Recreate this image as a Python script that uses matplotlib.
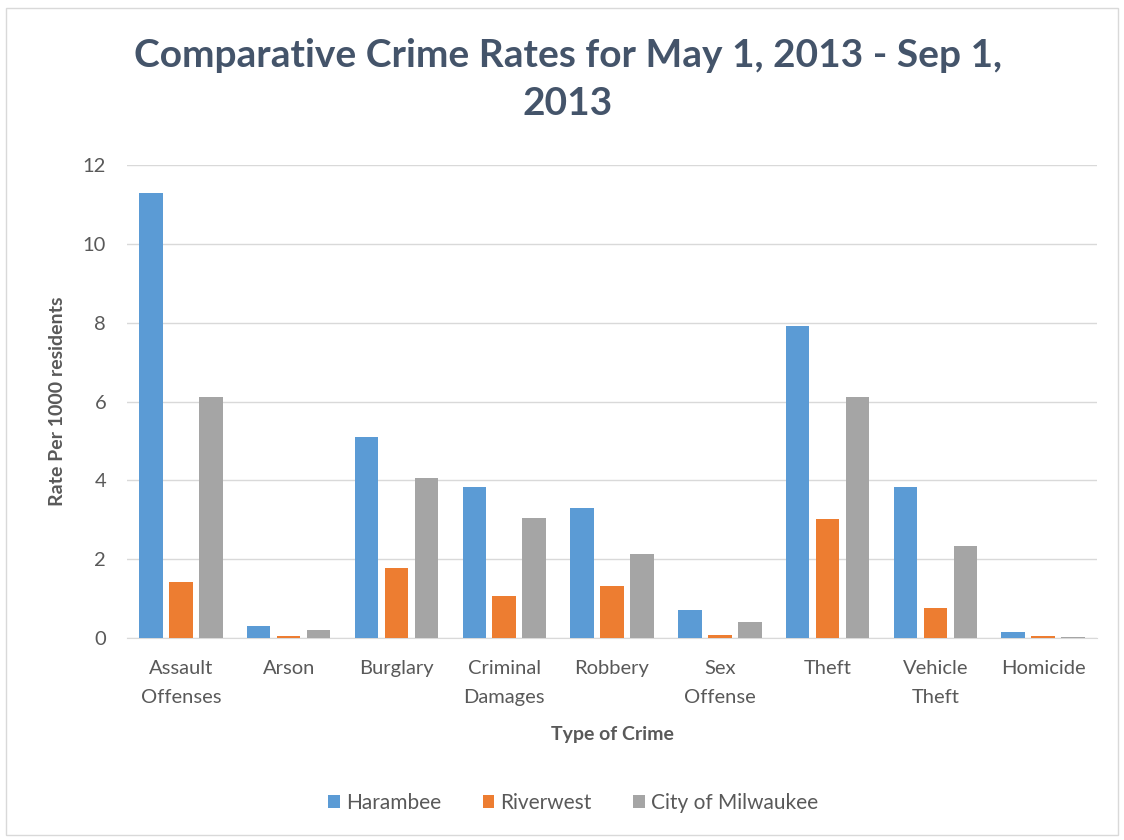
import matplotlib.pyplot as plt
import numpy as np
from matplotlib.patches import Rectangle

crimes = ['Assault\nOffenses', 'Arson', 'Burglary', 'Criminal\nDamages', 'Robbery',
          'Sex\nOffense', 'Theft', 'Vehicle\nTheft', 'Homicide']
harambee = [11.3, 0.30, 5.09, 3.82, 3.31, 0.70, 7.91, 3.82, 0.14]
riverwest = [1.42, 0.04, 1.78, 1.06, 1.33, 0.08, 3.01, 0.76, 0.04]
milwaukee = [6.12, 0.19, 4.06, 3.05, 2.14, 0.40, 6.12, 2.34, 0.03]
series_names = ['Harambee', 'Riverwest', 'City of Milwaukee']

plt.rcParams['font.family'] = ['Lato', 'DejaVu Sans']

fig = plt.figure(figsize=(11.24, 8.4), dpi=100)
fig.patches.append(Rectangle((0.005, 0.006), 0.99, 0.984, transform=fig.transFigure,
                             fill=False, edgecolor='#D9D9D9', linewidth=1))
ax = fig.add_axes([0.113, 0.2405, 0.863, 0.563])

x = np.arange(len(crimes))
w = 0.218
step = 0.278
colors = ['#5B9BD5', '#ED7D31', '#A5A5A5']
for i, (vals, c, name) in enumerate(zip([harambee, riverwest, milwaukee], colors, series_names)):
    ax.bar(x + (i - 1) * step, vals, width=w, color=c, label=name, zorder=3)

ax.set_xlim(-0.5, len(crimes) - 0.5)
ax.set_ylim(0, 12)
ax.set_yticks(np.arange(0, 13, 2))
ax.set_xticks(x)
ax.set_xticklabels(crimes, linespacing=1.85)
ax.tick_params(axis='both', length=0, labelsize=14.5, colors='#595959')
ax.tick_params(axis='x', pad=16)
ax.tick_params(axis='y', pad=15)
ax.grid(axis='y', color='#D9D9D9', linewidth=1, zorder=0)
for s in ['top', 'right', 'left']:
    ax.spines[s].set_visible(False)
ax.spines['bottom'].set_color('#D9D9D9')

ax.set_ylabel('Rate Per 1000 residents', fontsize=14, fontweight='bold', color='#595959', labelpad=12)
ax.set_xlabel('Type of Crime', fontsize=14, fontweight='bold', color='#595959', labelpad=14)

fig.text(0.505, 0.934, 'Comparative Crime Rates for May 1, 2013 - Sep 1,', ha='center', va='center',
         fontsize=28, fontweight='bold', color='#44546A')
fig.text(0.505, 0.877, '2013', ha='center', va='center',
         fontsize=28, fontweight='bold', color='#44546A')

fig.legend(loc='center', bbox_to_anchor=(0.51, 0.044), ncol=3, frameon=False, fontsize=15,
           handlelength=0.55, handleheight=0.55, handletextpad=0.3, columnspacing=2.0,
           labelcolor='#595959')

fig.savefig('out.png', dpi=100)
